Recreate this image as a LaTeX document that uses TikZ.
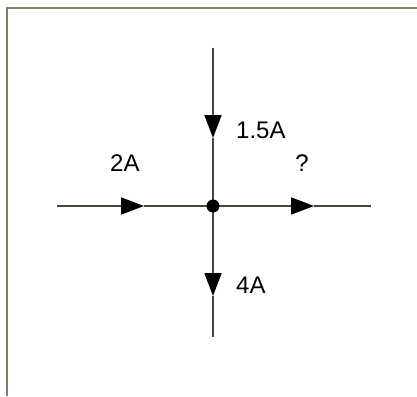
\documentclass[tikz,border=0pt]{standalone}
\usepackage{fontspec}
\setmainfont{Liberation Sans}
\usetikzlibrary{arrows.meta}
\definecolor{wire}{HTML}{45483A}
\definecolor{frame}{HTML}{7A7F68}
\tikzset{
  wireline/.style={draw=wire, line width=1.8pt},
  tipline/.style={wireline, -{Triangle[length=23pt,width=17pt,color=black]}},
  lbl/.style={font=\fontsize{24}{28}\selectfont, text=black, inner sep=0pt},
}
\begin{document}
\begin{tikzpicture}[x=1pt,y=-1pt]
\useasboundingbox (0,0) rectangle (417,396);
% frame (top and left edges)
\coordinate (fbl) at (7,396);
\coordinate (ftl) at (7,8.5);
\coordinate (ftr) at (417,8.5);
\draw[frame, line width=2pt] (fbl) -- (ftl) -- (ftr);
% wires
\coordinate (C) at (213,206);
\coordinate (T) at (213,48);
\coordinate (B) at (213,337);
\coordinate (L) at (57,206);
\coordinate (R) at (371,206);
\coordinate (at) at (213,138);
\coordinate (ab) at (213,296);
\coordinate (al) at (144,206);
\coordinate (ar) at (314,206);
\draw[tipline] (T) -- (at);
\draw[wireline] (at) -- (C);
\draw[tipline] (C) -- (ab);
\draw[wireline] (ab) -- (B);
\draw[tipline] (L) -- (al);
\draw[wireline] (al) -- (C);
\draw[tipline] (C) -- (ar);
\draw[wireline] (ar) -- (R);
\node[circle, fill=black, minimum size=13pt, inner sep=0pt] (J) at (C) {};
% labels
\node[lbl, anchor=west] (l1) at (236,130) {1.5A};
\node[lbl, anchor=west] (l2) at (110,163) {2A};
\node[lbl] (l3) at (302,163) {?};
\node[lbl, anchor=west] (l4) at (236,285) {4A};
\end{tikzpicture}
\end{document}
